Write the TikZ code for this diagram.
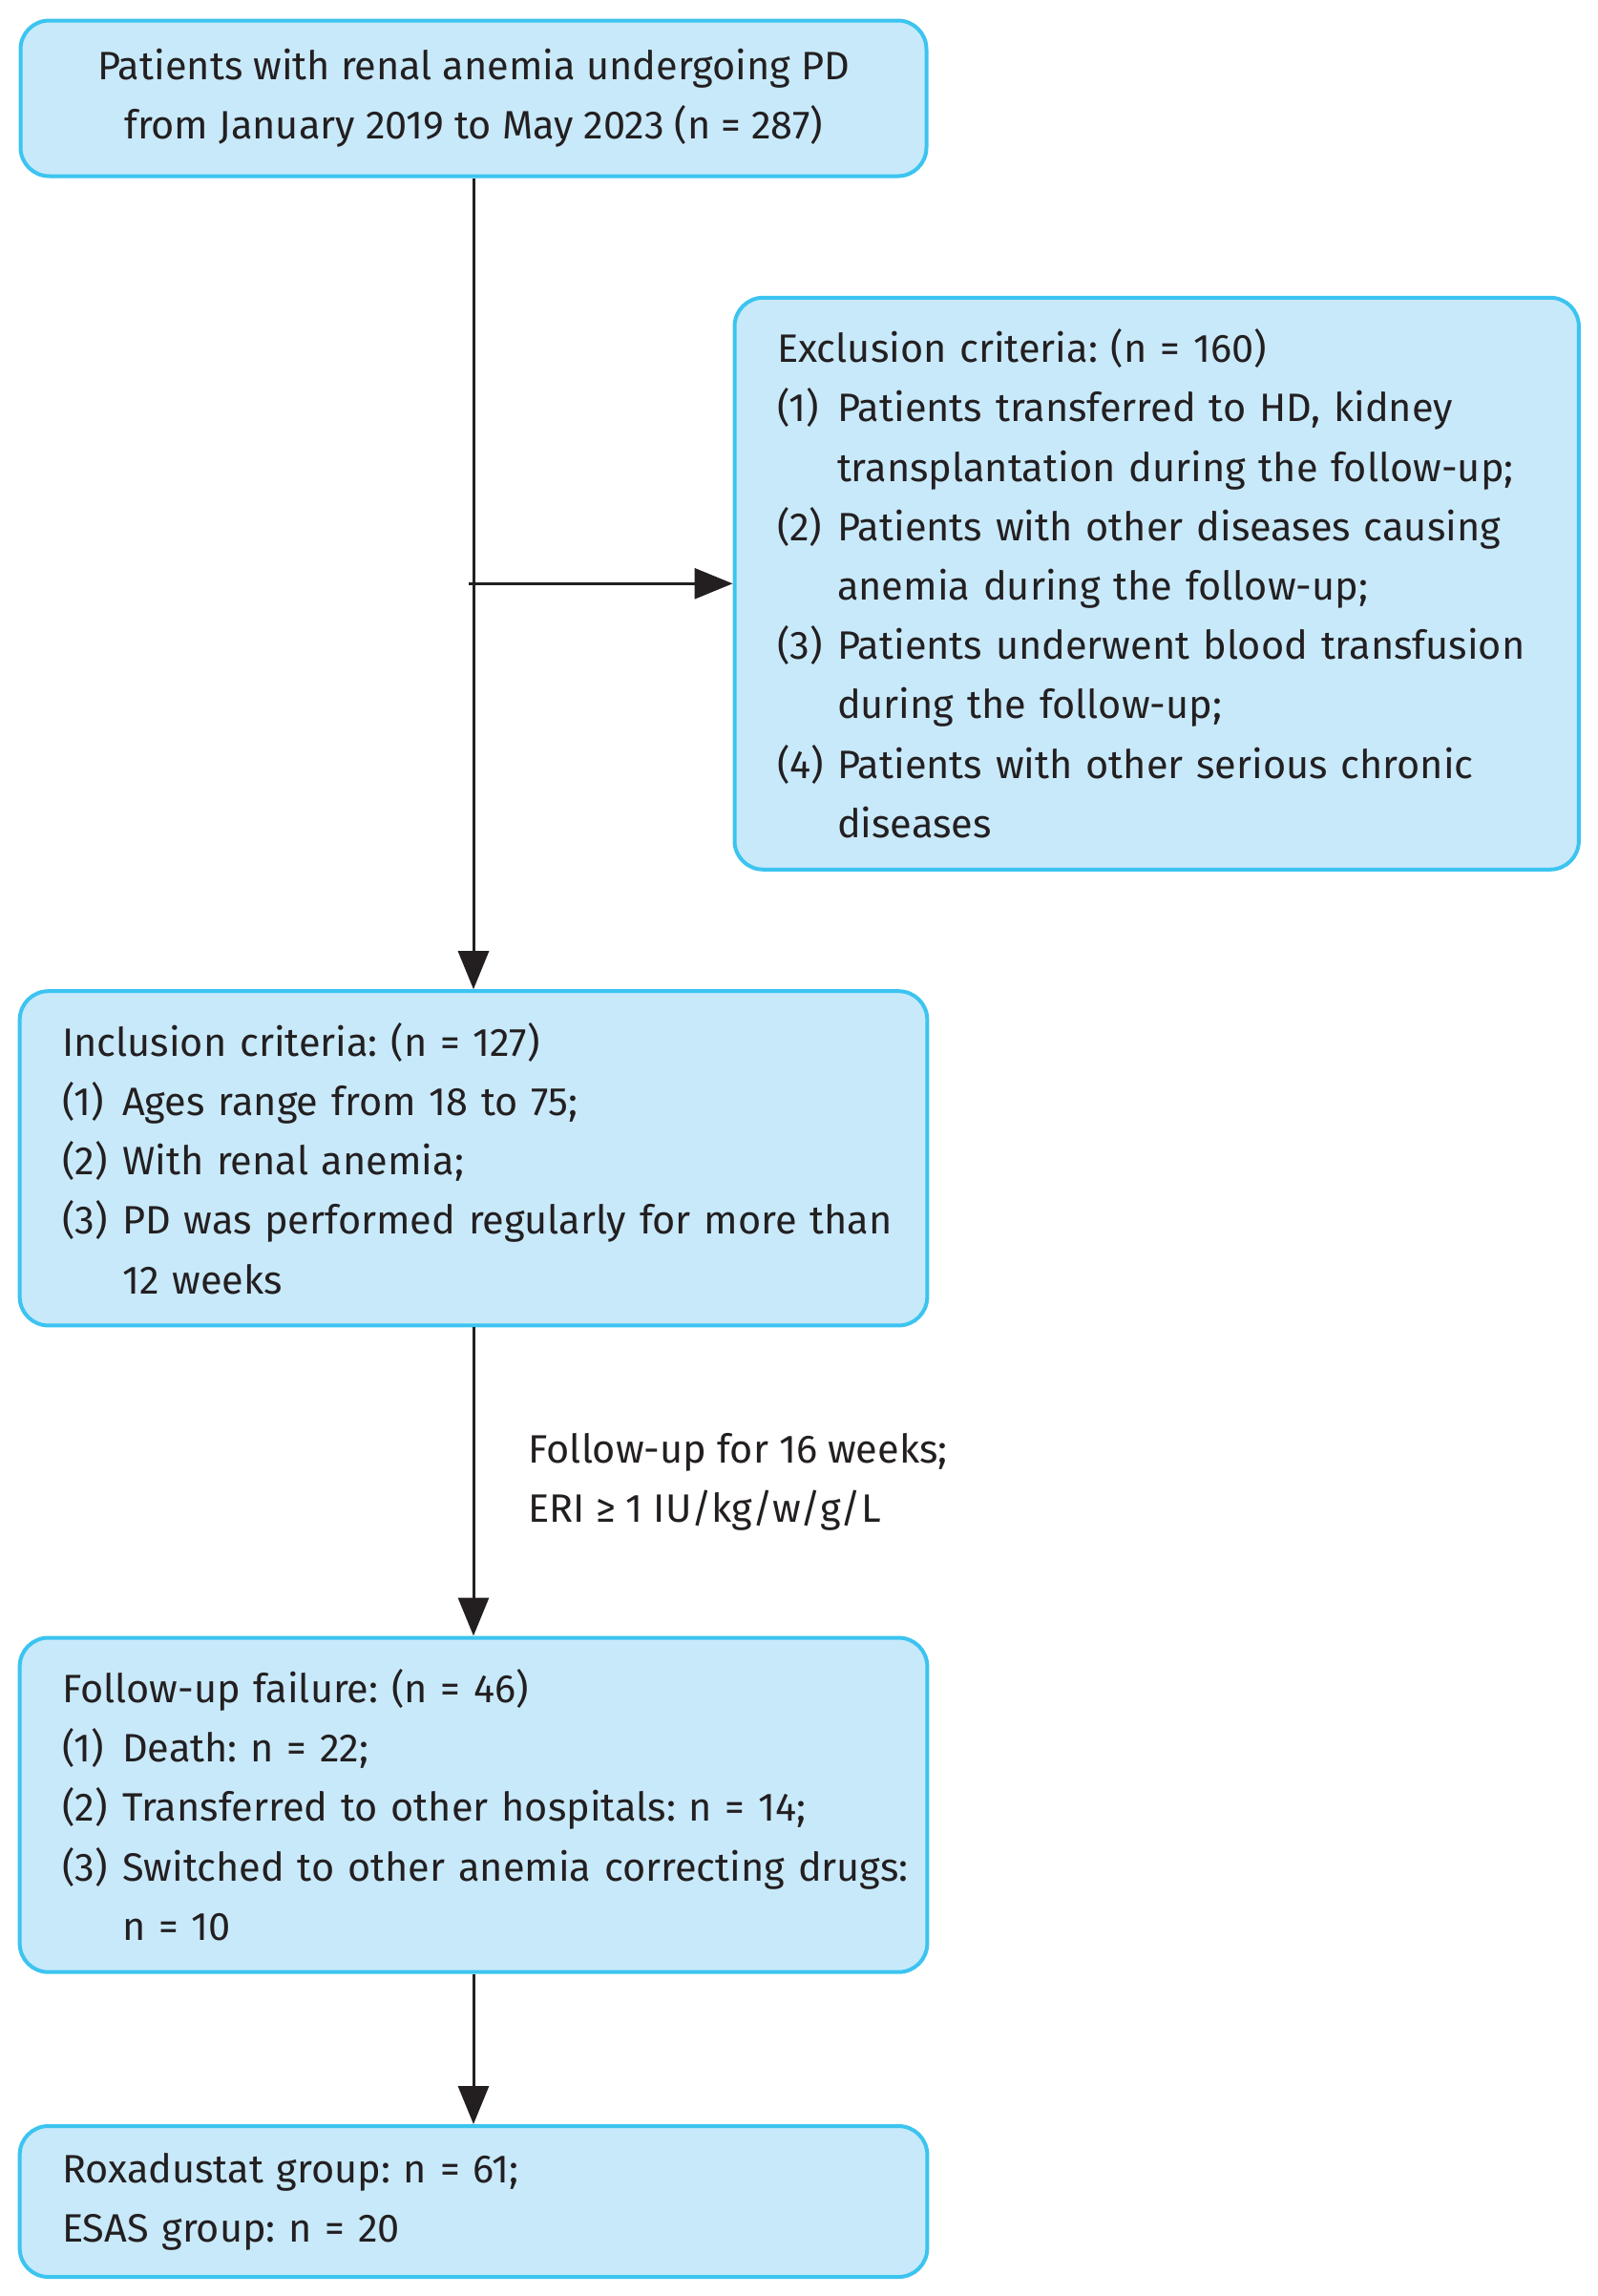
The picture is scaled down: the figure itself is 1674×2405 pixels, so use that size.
\documentclass[tikz,border=0pt]{standalone}
\usepackage{fontspec}
\setmainfont{Fira Sans}
\usetikzlibrary{arrows.meta}
\definecolor{boxfill}{HTML}{C8E9FA}
\definecolor{boxline}{HTML}{3CC4F0}
\definecolor{ink}{HTML}{231F20}
\newlength{\itmw}
\setlength{\itmw}{6.3mm}
\newcommand{\myitem}[1]{\makebox[\itmw][l]{#1}}
\newcommand{\myindent}{\hspace*{\itmw}}
\frenchspacing
\hfuzz=100pt
\begin{document}
\begin{tikzpicture}[x=0.1mm,y=-0.1mm,
  every node/.style={text=ink, font=\fontsize{11.8}{17.7}\selectfont\frenchspacing},
  box/.style={draw=boxline, fill=boxfill, line width=0.4mm, rounded corners=3mm,
    inner xsep=4.45mm, inner ysep=0pt},
  conn/.style={draw=ink, line width=0.3mm, -{Triangle[length=4mm,width=3.2mm]}}]
\useasboundingbox (0,0) rectangle (1674,2405);
% top box
\node[box, minimum width=94.9mm, minimum height=16.3mm, align=center] (A) at (496,103)
  {Patients with renal anemia undergoing PD\\from January 2019 to May 2023 (n = 287)};
% exclusion box
\node[box, text width=79.54mm, minimum height=59.9mm, align=left] (B) at (1211.7,611.3)
  {\mbox{Exclusion criteria: (n = 160)}\\
   \mbox{\myitem{(1)}Patients transferred to HD, kidney}\\
   \mbox{\myindent transplantation during the follow-up;}\\
   \mbox{\myitem{(2)}Patients with other diseases causing}\\
   \mbox{\myindent anemia during the follow-up;}\\
   \mbox{\myitem{(3)}Patients underwent blood transfusion}\\
   \mbox{\myindent during the follow-up;}\\
   \mbox{\myitem{(4)}Patients with other serious chronic}\\
   \mbox{\myindent diseases}};
% inclusion box
\node[box, text width=86.17mm, minimum height=35.02mm, align=left] (C) at (496,1213.3)
  {\mbox{Inclusion criteria: (n = 127)}\\
   \mbox{\myitem{(1)}Ages range from 18 to 75;}\\
   \mbox{\myitem{(2)}With renal anemia;}\\
   \mbox{\myitem{(3)}PD was performed regularly for more than}\\
   \mbox{\myindent 12 weeks}};
% follow-up failure box
\node[box, text width=86.17mm, minimum height=35.02mm, align=left] (D) at (496,1890.6)
  {\mbox{Follow-up failure: (n = 46)}\\
   \mbox{\myitem{(1)}Death: n = 22;}\\
   \mbox{\myitem{(2)}Transferred to other hospitals: n = 14;}\\
   \mbox{\myitem{(3)}Switched to other anemia correcting drugs:}\\
   \mbox{\myindent n = 10}};
% groups box
\node[box, text width=86.17mm, minimum height=15.8mm, align=left] (E) at (496,2306)
  {\mbox{Roxadustat group: n = 61;}\\\mbox{ESAS group: n = 20}};
% label
\node[anchor=west, align=left, inner sep=0pt] (L) at (553,1552)
  {Follow-up for 16 weeks;\\ERI ≥ 1 IU/kg/w/g/L};
% connectors
\coordinate (J) at (491,611.3);
\draw[conn] (A.south) -- (C.north);
\draw[conn] (J) -- (B.west);
\draw[conn] (C.south) -- (D.north);
\draw[conn] (D.south) -- (E.north);
\end{tikzpicture}
\end{document}
